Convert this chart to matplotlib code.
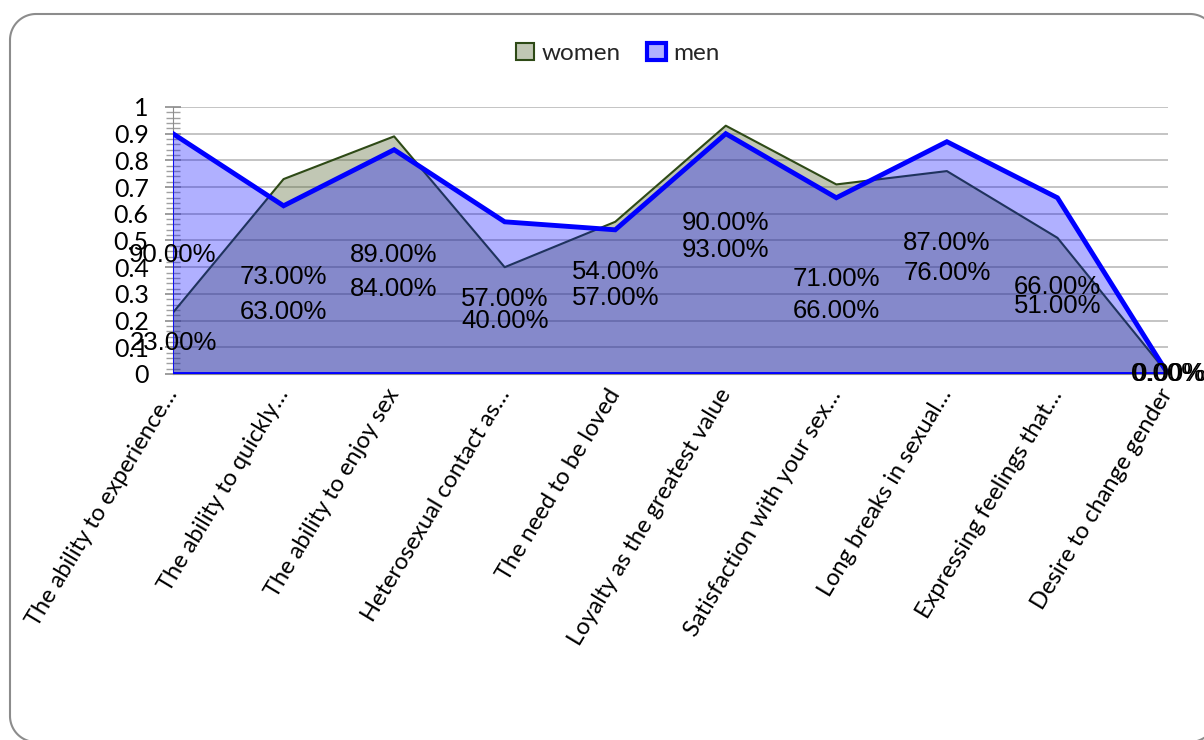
import matplotlib
matplotlib.use('Agg')
import matplotlib.pyplot as plt
import numpy as np
from matplotlib.patches import Patch
from matplotlib.ticker import MultipleLocator

categories = ["The ability to experience\u2026", "The ability to quickly\u2026",
              "The ability to enjoy sex", "Heterosexual contact as\u2026",
              "The need to be loved", "Loyalty as the greatest value",
              "Satisfaction with your sex\u2026", "Long breaks in sexual\u2026",
              "Expressing feelings that\u2026", "Desire to change gender"]
women = [0.23, 0.73, 0.89, 0.40, 0.57, 0.93, 0.71, 0.76, 0.51, 0.00]
men = [0.90, 0.63, 0.84, 0.57, 0.54, 0.90, 0.66, 0.87, 0.66, 0.00]
# data-label vertical placement for men (Excel moved them to avoid overlap)
men_label_y = [0.445, 0.233, 0.318, 0.281, 0.383, 0.567, 0.236, 0.49, 0.325, 0.0]

W, H = 1204, 740
fig = plt.figure(figsize=(W / 100, H / 100), dpi=100)
fig.patch.set_facecolor('white')

# rounded chart border, drawn in a pixel-space overlay axes
bg = fig.add_axes([0, 0, 1, 1], zorder=-10)
bg.set_xlim(0, W)
bg.set_ylim(H, 0)
bg.axis('off')
L, T, R, B, r = 10, 14, 1216, 742, 26


def arc(cx, cy, a0, a1, n=30):
    t = np.radians(np.linspace(a0, a1, n))
    return cx + r * np.cos(t), cy - r * np.sin(t)


segs = [arc(L + r, B - r, 270, 180), arc(L + r, T + r, 180, 90),
        arc(R - r, T + r, 90, 0), arc(R - r, B - r, 0, -90)]
bx = np.concatenate([s[0] for s in segs] + [[L + r]])
by = np.concatenate([s[1] for s in segs] + [[B]])
bg.plot(bx, by, color='#8C8C8C', lw=1.5, solid_capstyle='round')

ax = fig.add_axes([173 / W, 1 - 374 / H, (1168 - 173) / W, (374 - 107) / H])
ax.patch.set_alpha(0)
x = np.arange(len(categories))

women_fc = (0.31, 0.38, 0.16, 0.35)
men_fc = (0.0, 0.0, 1.0, 0.31)
women_ec = '#2E4A16'

ax.fill_between(x, 0, women, facecolor=women_fc, edgecolor='none', zorder=2)
ax.plot(x, women, color=women_ec, lw=1.5, zorder=3)
ax.fill_between(x, 0, men, facecolor=men_fc, edgecolor='none', zorder=4)
ax.plot(x, men, color='blue', lw=3.5, zorder=5, solid_joinstyle='miter')
ax.plot([x[0], x[-1]], [0, 0], color='blue', lw=2.8, zorder=5)
ax.plot([x[0], x[0]], [0, men[0]], color='blue', lw=1.2, zorder=5)

ax.set_xlim(x[0], x[-1])
ax.set_ylim(0, 1)
ax.yaxis.set_minor_locator(MultipleLocator(0.02))
yt = np.round(np.arange(0, 1.01, 0.1), 1)
ax.set_yticks(yt)
ax.set_yticklabels(['0' if v == 0 else ('1' if v == 1 else f'{v:.1f}') for v in yt],
                   fontfamily='Lato', fontsize=18)
ax.tick_params(axis='y', which='major', direction='inout', length=11, width=1.2,
               color='#8C8C8C', pad=12)
ax.tick_params(axis='y', which='minor', direction='inout', length=10, width=1.0,
               color='#A0A0A0')
ax.grid(axis='y', which='major', color='#BFBFBF', lw=1.3, zorder=1)
ax.set_axisbelow(True)

ax.set_xticks(x)
ax.set_xticklabels(categories, rotation=59, ha='right', va='center',
                   rotation_mode='anchor', fontfamily='Lato', fontsize=17)
ax.tick_params(axis='x', length=0, pad=12)

for s in ['top', 'right']:
    ax.spines[s].set_visible(False)
ax.spines['left'].set_color('#8C8C8C')
ax.spines['bottom'].set_color('#8C8C8C')

lab_kw = dict(ha='center', va='center', fontfamily='Liberation Sans', fontsize=18.5,
              color='black', zorder=6)
for i in range(len(categories)):
    ax.text(x[i], women[i] / 2, f'{women[i] * 100:.2f}%', **lab_kw)
    dx = 0.012 if i == len(categories) - 1 else 0
    ax.text(x[i] + dx, men_label_y[i], f'{men[i] * 100:.2f}%', **lab_kw)

handles = [Patch(facecolor=women_fc, edgecolor=women_ec, lw=1.5, label='women'),
           Patch(facecolor=men_fc, edgecolor='blue', lw=3, label='men')]
fig.legend(handles=handles, loc='center', bbox_to_anchor=(0.513, 0.928), ncol=2,
           frameon=False, prop={'family': 'Lato', 'size': 17.5}, handlelength=0.75,
           handleheight=0.75, handletextpad=0.3, columnspacing=1.1, labelcolor='#262626')

fig.savefig('out.png', dpi=100, facecolor='white')
